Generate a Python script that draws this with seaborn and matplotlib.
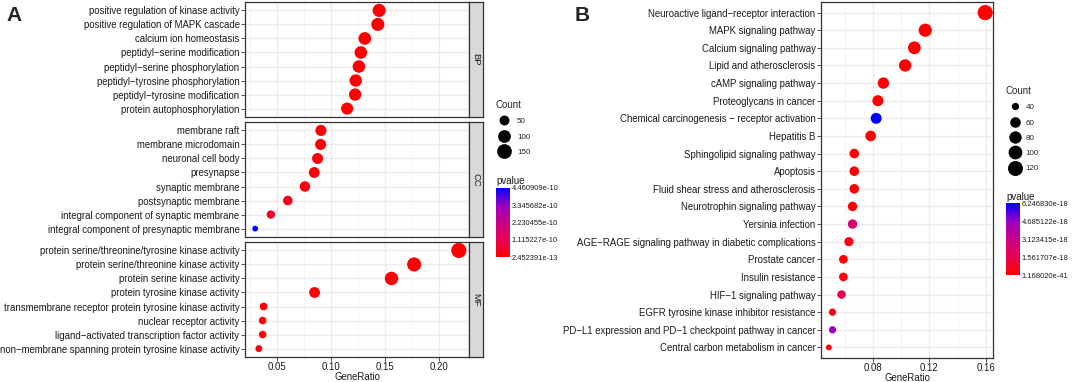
import numpy as np
import pandas as pd
import matplotlib
matplotlib.use("Agg")
import matplotlib.pyplot as plt
import seaborn as sns
from matplotlib.colors import LinearSegmentedColormap, Normalize
from matplotlib.lines import Line2D
from matplotlib.ticker import MultipleLocator, FormatStrFormatter
from matplotlib.transforms import Bbox, TransformedBbox

# ---------------- panel A : GO enrichment ----------------
bp_terms = ["positive regulation of kinase activity", "positive regulation of MAPK cascade",
            "calcium ion homeostasis", "peptidyl\u2212serine modification",
            "peptidyl\u2212serine phosphorylation", "peptidyl\u2212tyrosine phosphorylation",
            "peptidyl\u2212tyrosine modification", "protein autophosphorylation"]
bp_ratio = [0.1448, 0.1436, 0.1316, 0.1279, 0.1261, 0.1232, 0.1226, 0.1152]
bp_count = [109, 108, 99, 97, 95, 93, 93, 87]
bp_pvalue = [2.452391e-13, 4.1e-13, 8.9e-13, 1.6e-12, 2.3e-12, 3.0e-12, 3.6e-12, 5.2e-12]

cc_terms = ["membrane raft", "membrane microdomain", "neuronal cell body", "presynapse",
            "synaptic membrane", "postsynaptic membrane",
            "integral component of synaptic membrane", "integral component of presynaptic membrane"]
cc_ratio = [0.0910, 0.0907, 0.0879, 0.0848, 0.0762, 0.0604, 0.0447, 0.0302]
cc_count = [69, 68, 66, 64, 58, 46, 34, 23]
cc_pvalue = [6.8e-12, 7.1e-12, 9.4e-12, 1.3e-11, 2.2e-11, 4.0e-11, 5.6e-11, 4.460909e-10]

mf_terms = ["protein serine/threonine/tyrosine kinase activity", "protein serine/threonine kinase activity",
            "protein serine kinase activity", "protein tyrosine kinase activity",
            "transmembrane receptor protein tyrosine kinase activity", "nuclear receptor activity",
            "ligand\u2212activated transcription factor activity",
            "non\u2212membrane spanning protein tyrosine kinase activity"]
mf_ratio = [0.2185, 0.1772, 0.1563, 0.0851, 0.0380, 0.0371, 0.0371, 0.0336]
mf_count = [165, 134, 118, 64, 29, 28, 28, 25]
mf_pvalue = [3.4e-13, 5.5e-13, 7.7e-13, 1.9e-12, 8.2e-12, 1.1e-11, 1.2e-11, 1.5e-11]

go_count_breaks = [50, 100, 150]
go_p_breaks = [2.452391e-13, 1.115227e-10, 2.230455e-10, 3.345682e-10, 4.460909e-10]

# ---------------- panel B : KEGG enrichment ----------------
kegg_terms = ["Neuroactive ligand\u2212receptor interaction", "MAPK signaling pathway",
              "Calcium signaling pathway", "Lipid and atherosclerosis", "cAMP signaling pathway",
              "Proteoglycans in cancer", "Chemical carcinogenesis \u2212 receptor activation",
              "Hepatitis B", "Sphingolipid signaling pathway", "Apoptosis",
              "Fluid shear stress and atherosclerosis", "Neurotrophin signaling pathway",
              "Yersinia infection", "AGE\u2212RAGE signaling pathway in diabetic complications",
              "Prostate cancer", "Insulin resistance", "HIF\u22121 signaling pathway",
              "EGFR tyrosine kinase inhibitor resistance",
              "PD\u2212L1 expression and PD\u22121 checkpoint pathway in cancer",
              "Central carbon metabolism in cancer"]
kegg_ratio = [0.1594, 0.1170, 0.1093, 0.1028, 0.0874, 0.0835, 0.0823, 0.0784, 0.0668, 0.0668,
              0.0668, 0.0656, 0.0656, 0.0630, 0.0591, 0.0591, 0.0578, 0.0514, 0.0514, 0.0488]
kegg_count = [124, 91, 85, 80, 68, 65, 64, 61, 52, 52, 52, 51, 51, 49, 46, 46, 45, 40, 40, 38]
kegg_pvalue = [1.168020e-41, 3.2e-35, 5.1e-33, 2.4e-30, 7.5e-24, 1.9e-23, 6.246830e-18, 4.3e-22,
               2.1e-20, 3.6e-20, 5.8e-20, 1.2e-19, 2.3e-18, 3.5e-19, 6.1e-20, 2.8e-19, 1.5e-18,
               4.2e-19, 4.5e-18, 1.3e-19]

kegg_count_breaks = [40, 60, 80, 100, 120]
kegg_p_breaks = [1.168020e-41, 1.561707e-18, 3.123415e-18, 4.685122e-18, 6.246830e-18]

# ---------------- styling ----------------
W, H, DPI = 1072, 382, 100
sns.set_theme(style="white")
plt.rcParams["font.family"] = ["Liberation Sans", "DejaVu Sans"]

# ggplot red -> blue gradient (Lab interpolation)
cmap = LinearSegmentedColormap.from_list(
    "red_blue", ["#FF0000", "#E80050", "#C90089", "#9A00C3", "#0000FF"])

D_MIN, D_MAX = 5.8, 15.2   # dot diameter range in px
TXT = "#1A1A1A"


def dot_area(c, lo, hi):
    d = D_MIN + (D_MAX - D_MIN) * np.sqrt((c - lo) / (hi - lo))
    return (d * 72 / DPI) ** 2


def dot_diam_pt(c, lo, hi):
    return np.sqrt(dot_area(c, lo, hi))


fig = plt.figure(figsize=(W / DPI, H / DPI), dpi=DPI)


def px_axes(x0, y0, x1, y1):
    return fig.add_axes([x0 / W, 1 - y1 / H, (x1 - x0) / W, (y1 - y0) / H])


def style_panel(ax, xlim, major, minor, n, show_x=True):
    ax.set_xlim(xlim)
    ax.set_ylim(n - 1 + 0.6, -0.6)
    ax.set_yticks(range(n))
    ax.xaxis.set_major_locator(MultipleLocator(major))
    ax.xaxis.set_minor_locator(MultipleLocator(minor))
    ax.xaxis.set_major_formatter(FormatStrFormatter("%.2f"))
    ax.grid(which="major", color="#EBEBEB", lw=1.0)
    ax.grid(which="minor", axis="x", color="#F3F3F3", lw=0.6)
    ax.set_axisbelow(True)
    for s in ax.spines.values():
        s.set_color("#333333")
        s.set_linewidth(0.9)
    ax.tick_params(which="major", length=2.7, width=0.6, color="#333333",
                   labelsize=6.9, labelcolor=TXT, pad=1.2,
                   left=True, bottom=show_x, labelbottom=show_x)
    ax.tick_params(which="minor", length=0)
    ax.set_xlabel("")
    ax.set_ylabel("")


def count_legend(breaks, lo, hi, x, y, hlen, tpad):
    handles = [Line2D([], [], marker="o", ls="none", color="black", markeredgewidth=0,
                      markersize=dot_diam_pt(b, lo, hi)) for b in breaks]
    fig.legend(handles, [str(b) for b in breaks], title="Count", loc="upper left",
               bbox_to_anchor=(x / W, 1 - y / H), frameon=False, fontsize=5.8,
               title_fontsize=7.0, alignment="left", handlelength=hlen,
               handletextpad=tpad, borderpad=0, borderaxespad=0, labelspacing=0.95)


def p_colorbar(norm, breaks, x0, y0, x1, y1, title_y, clip_x=None):
    cax = px_axes(x0, y0, x1, y1)
    sm = plt.cm.ScalarMappable(norm=norm, cmap=cmap)
    cb = fig.colorbar(sm, cax=cax)
    cb.outline.set_visible(False)
    cb.set_ticks(breaks)
    cb.set_ticklabels(["%.6e" % b for b in breaks])
    cax.tick_params(direction="in", length=2.8, width=0.6, color="white",
                    left=True, right=True, labelsize=5.4, labelcolor=TXT, pad=1.2)
    fig.text(x0 / W, 1 - title_y / H, "pvalue", fontsize=7.0, va="center", ha="left", color=TXT)
    if clip_x is not None:
        box = TransformedBbox(Bbox([[0, 0], [clip_x / W, 1]]), fig.transFigure)
        for lab in cax.get_yticklabels():
            lab.set_clip_box(box)
            lab.set_clip_on(True)


# ---------------- panel A ----------------
go = [("BP", bp_terms, bp_ratio, bp_count, bp_pvalue, 2, 117),
      ("CC", cc_terms, cc_ratio, cc_count, cc_pvalue, 122, 237),
      ("MF", mf_terms, mf_ratio, mf_count, mf_pvalue, 242, 357)]

all_ratio = bp_ratio + cc_ratio + mf_ratio
all_count = bp_count + cc_count + mf_count
lo_r, hi_r = min(all_ratio), max(all_ratio)
pad = 0.05 * (hi_r - lo_r)
go_xlim = (lo_r - pad, hi_r + pad)
go_clo, go_chi = min(all_count), max(all_count)
go_sizes = {c: dot_area(c, go_clo, go_chi) for c in set(all_count)}
go_norm = Normalize(go_p_breaks[0], go_p_breaks[-1])

for i, (name, terms, ratio, count, pval, y0, y1) in enumerate(go):
    df = pd.DataFrame({"Description": terms, "GeneRatio": ratio, "Count": count, "pvalue": pval})
    ax = px_axes(245, y0, 469, y1)
    sns.scatterplot(data=df, x="GeneRatio", y="Description", hue="pvalue", palette=cmap,
                    hue_norm=go_norm, size="Count", sizes=go_sizes, linewidth=0,
                    legend=False, ax=ax)
    last = i == len(go) - 1
    style_panel(ax, go_xlim, 0.05, 0.025, len(terms), show_x=last)
    ax.set_yticklabels(terms)
    if last:
        ax.set_xlabel("GeneRatio", fontsize=6.9, color=TXT, labelpad=0)
    sax = px_axes(469, y0, 483, y1)
    sax.set_facecolor("#D9D9D9")
    sax.set_xticks([])
    sax.set_yticks([])
    for s in sax.spines.values():
        s.set_color("#333333")
        s.set_linewidth(0.9)
    sax.text(0.5, 0.5, name, rotation=-90, ha="center", va="center",
             fontsize=6.8, color=TXT, transform=sax.transAxes)

count_legend(go_count_breaks, go_clo, go_chi, 496, 100, 2.1, 0.5)
p_colorbar(go_norm, go_p_breaks, 496, 188, 510, 257, 181, clip_x=561)

# ---------------- panel B ----------------
kdf = pd.DataFrame({"Description": kegg_terms, "GeneRatio": kegg_ratio,
                    "Count": kegg_count, "pvalue": kegg_pvalue})
k_clo, k_chi = min(kegg_count), max(kegg_count)
k_sizes = {c: dot_area(c, k_clo, k_chi) for c in set(kegg_count)}
k_norm = Normalize(kegg_p_breaks[0], kegg_p_breaks[-1])
pad = 0.05 * (max(kegg_ratio) - min(kegg_ratio))
axb = px_axes(821, 2, 993, 358)
sns.scatterplot(data=kdf, x="GeneRatio", y="Description", hue="pvalue", palette=cmap,
                hue_norm=k_norm, size="Count", sizes=k_sizes, linewidth=0,
                legend=False, ax=axb)
style_panel(axb, (min(kegg_ratio) - pad, max(kegg_ratio) + pad), 0.04, 0.02, len(kegg_terms))
axb.set_yticklabels(kegg_terms)
axb.set_xlabel("GeneRatio", fontsize=6.9, color=TXT, labelpad=0)

count_legend(kegg_count_breaks, k_clo, k_chi, 1006, 86, 2.3, 0.15)
p_colorbar(k_norm, kegg_p_breaks, 1006, 203, 1020, 275, 197)

# panel letters
fig.text(6 / W, 1 - 6 / H, "A", fontsize=15, fontweight="bold", va="top", ha="left")
fig.text(575 / W, 1 - 6 / H, "B", fontsize=15, fontweight="bold", va="top", ha="left")

fig.savefig("out.png", dpi=DPI)
